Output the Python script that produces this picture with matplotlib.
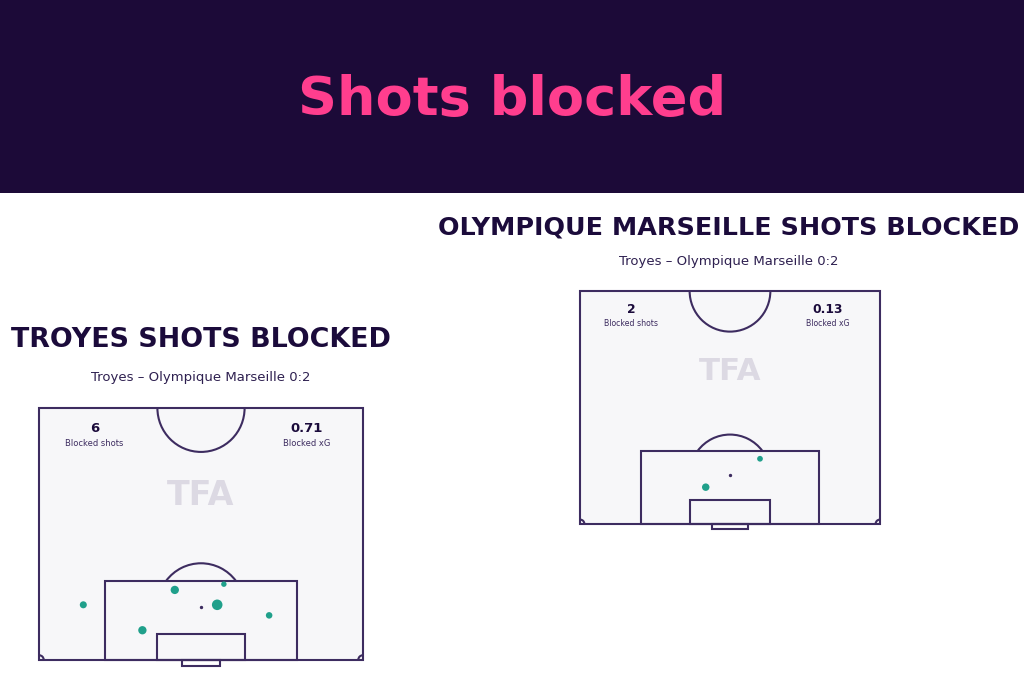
import numpy as np
import matplotlib.pyplot as plt
from matplotlib.patches import Rectangle, Arc

# data
title = "Shots blocked"
subtitle = "Troyes \u2013 Olympique Marseille 0:2"

troyes_x = [9.3, 28.5, 38.8, 37.4, 48.3, 21.7]   # metres across pitch
troyes_y = [11.5, 14.6, 15.8, 11.5, 9.3, 6.2]    # metres from goal line
troyes_xg = [0.08, 0.14, 0.02, 0.27, 0.06, 0.14]

om_x = [40.8, 28.5]
om_y = [14.7, 8.3]
om_xg = [0.03, 0.10]

BANNER = '#1c0a38'
PINK = '#ff3e8e'
NAVY = '#1b0b3b'
LINE = '#3d2c60'
PITCH = '#f7f7f9'
DOT = '#20a08b'

W, H = 1024, 683
L, HALF = 68.0, 52.5
pad = 3.0

fig = plt.figure(figsize=(W / 100, H / 100), dpi=100)
fig.patch.set_facecolor('white')

# banner
fig.patches.append(Rectangle((0, 1 - 193 / H), 1, 193 / H, transform=fig.transFigure,
                             facecolor=BANNER, edgecolor='none', zorder=0))
fig.text(0.5, 1 - 100 / H, title, color=PINK, fontsize=39, fontweight='bold',
         ha='center', va='center')


def draw_pitch(x0, x1, ytop, ybot, sx_, sy_, xg, team, sub_y, title_y, cx, tsize):
    sx = (x1 - x0) / L
    sy = (ybot - ytop) / HALF
    left = (x0 - pad * sx) / W
    right = (x1 + pad * sx) / W
    bottom = 1 - (ybot + pad * sy) / H
    top = 1 - (ytop - pad * sy) / H
    ax = fig.add_axes([left, bottom, right - left, top - bottom])
    ax.set_xlim(-pad, L + pad)
    ax.set_ylim(-pad, HALF + pad)
    ax.axis('off')
    k = sx / 4.765  # font scale

    lw = 1.5
    ax.add_patch(Rectangle((0, 0), L, HALF, facecolor=PITCH, edgecolor=LINE, lw=lw, zorder=1))
    ax.add_patch(Rectangle((L / 2 - 20.16, 0), 40.32, 16.5, fill=False, edgecolor=LINE, lw=lw, zorder=2))
    ax.add_patch(Rectangle((L / 2 - 9.16, 0), 18.32, 5.5, fill=False, edgecolor=LINE, lw=lw, zorder=2))
    ax.add_patch(Rectangle((L / 2 - 4.0, -1.2), 8.0, 1.2, fill=False, edgecolor=LINE, lw=lw, zorder=2,
                           clip_on=False))
    ax.add_patch(Arc((L / 2, HALF), 18.3, 18.3, theta1=180, theta2=360, edgecolor=LINE, lw=lw, zorder=2))
    ang = np.degrees(np.arcsin(5.5 / 9.15))
    ax.add_patch(Arc((L / 2, 11), 18.3, 18.3, theta1=ang, theta2=180 - ang, edgecolor=LINE, lw=lw, zorder=2))
    ax.add_patch(Arc((0, 0), 2, 2, theta1=0, theta2=90, edgecolor=LINE, lw=lw, zorder=2))
    ax.add_patch(Arc((L, 0), 2, 2, theta1=90, theta2=180, edgecolor=LINE, lw=lw, zorder=2))
    ax.scatter([L / 2], [11], s=2, color=LINE, zorder=3)

    ax.text(L / 2, 34.3, 'TFA', color='#dcd9e3', fontsize=24 * k, fontweight='heavy',
            ha='center', va='center', zorder=2)

    ax.text(11.6, 48.3, str(len(xg)), color=NAVY, fontsize=9.5 * k, fontweight='bold',
            ha='center', va='center', zorder=3)
    ax.text(11.6, 45.2, 'Blocked shots', color=LINE, fontsize=6 * k, ha='center', va='center', zorder=3)
    ax.text(56.2, 48.3, f'{sum(xg):.2f}', color=NAVY, fontsize=9.5 * k, fontweight='bold',
            ha='center', va='center', zorder=3)
    ax.text(56.2, 45.2, 'Blocked xG', color=LINE, fontsize=6 * k, ha='center', va='center', zorder=3)

    ax.scatter(sx_, sy_, s=[12 + 170 * v for v in xg], color=DOT, edgecolors='none', zorder=4)

    fig.text(cx / W, 1 - title_y / H, f'{team.upper()} SHOTS BLOCKED', color=NAVY,
             fontsize=tsize, fontweight='heavy', ha='center', va='center')
    fig.text(cx / W, 1 - sub_y / H, subtitle, color='#2e2050', fontsize=9.5,
             ha='center', va='center')
    return ax


draw_pitch(39, 363, 408, 660, troyes_x, troyes_y, troyes_xg, 'Troyes', 378, 340, 201, 19.4)
draw_pitch(580, 880, 291, 524, om_x, om_y, om_xg, 'Olympique Marseille', 262, 228, 729, 18.3)

fig.savefig('out.png', dpi=100, facecolor='white')
